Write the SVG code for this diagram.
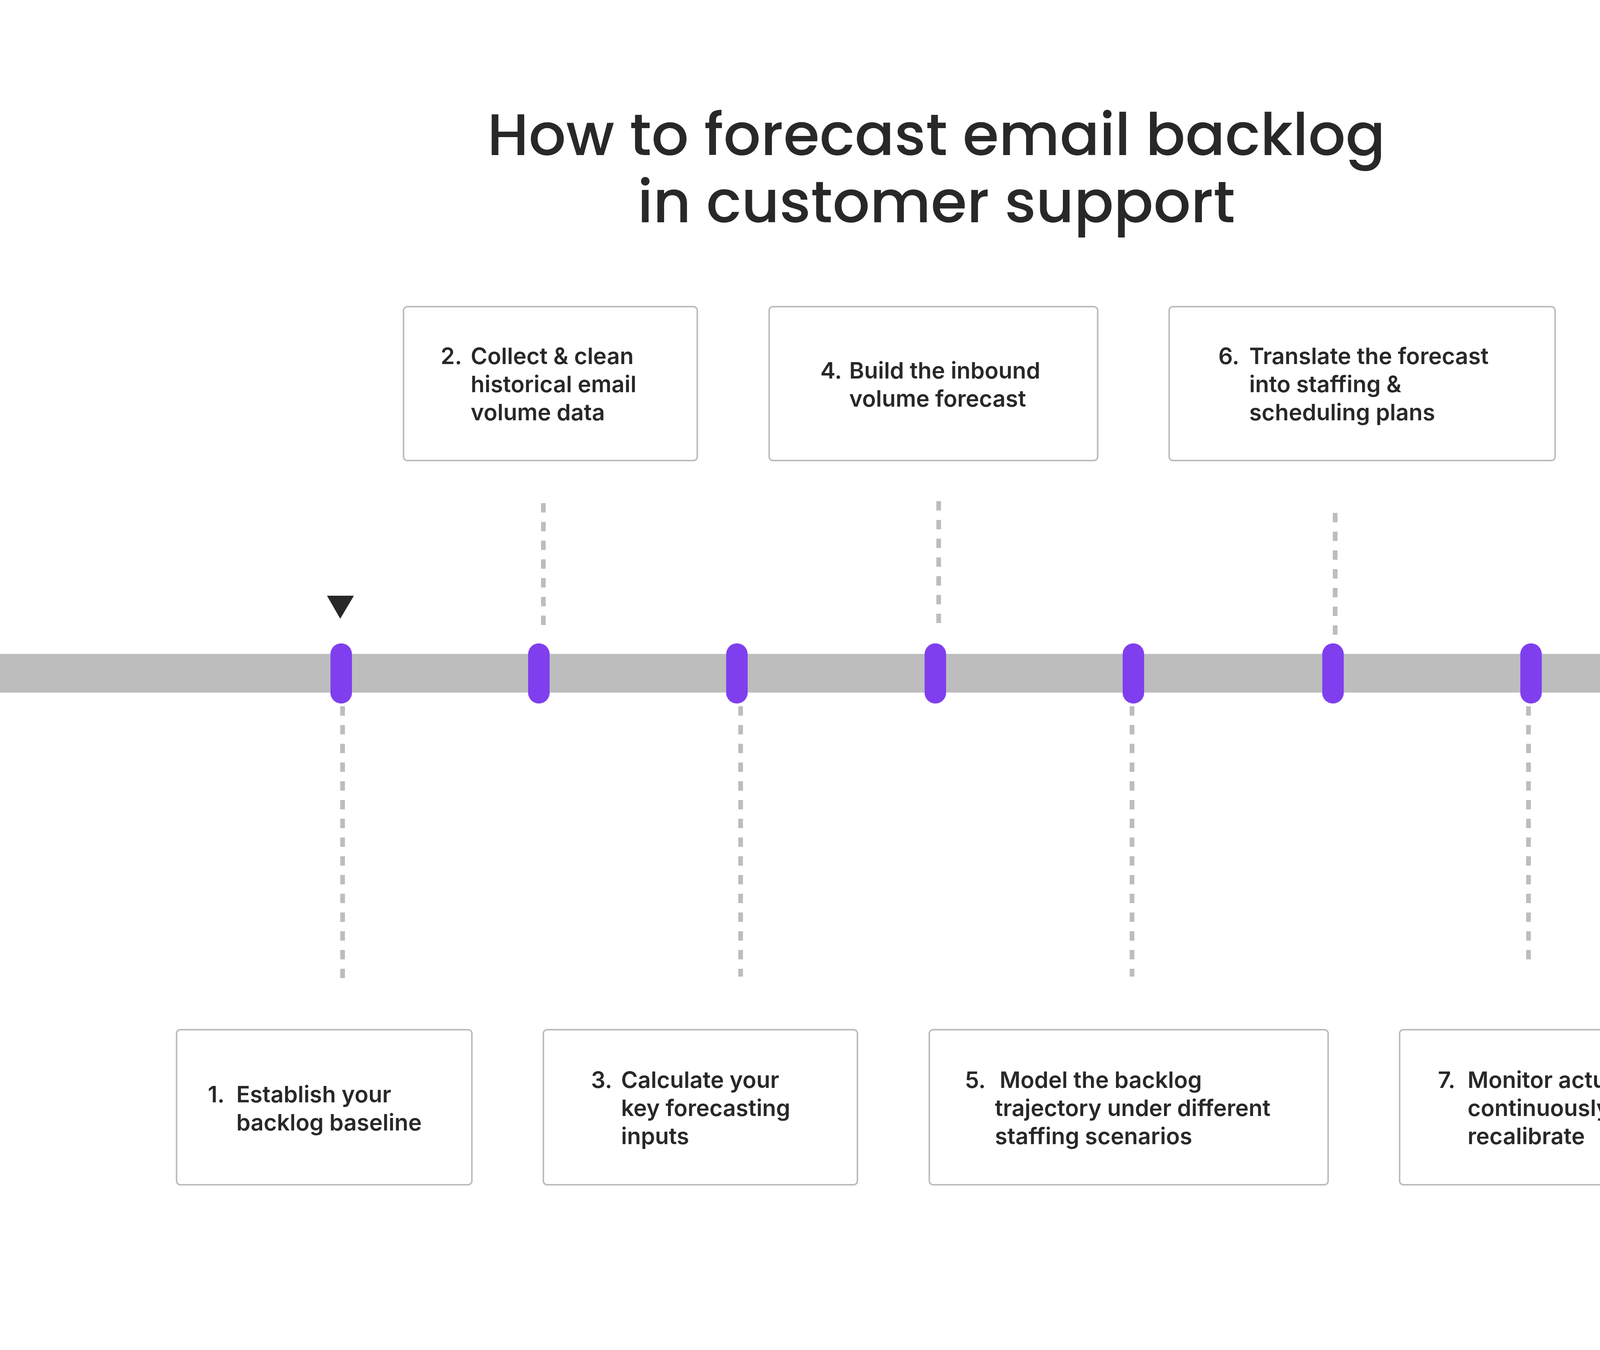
<svg xmlns="http://www.w3.org/2000/svg" width="4794" height="3456" viewBox="0 0 4794 3456">
<style>
.t{font-family:Inter,"Liberation Sans",sans-serif;font-weight:600;font-size:58px;fill:#282828}
.h{font-family:Poppins,Lato,Inter,"Liberation Sans",sans-serif;font-weight:500;font-size:150px;fill:#282828;text-anchor:middle}
.b{fill:#fff;stroke:#BDBDBD;stroke-width:4}
.d{stroke:#BDBDBD;stroke-width:12;stroke-dasharray:24 24;fill:none}
.k{fill:#7F3FEE}
</style>
<rect width="4794" height="3456" fill="#fff"/>
<g id="title"><text class="h" x="2397" y="397">How to forecast email backlog</text><text class="h" x="2397" y="569">in customer support</text></g>
<g id="timeline">
<rect x="0" y="1674" width="4794" height="99" fill="#BDBDBD"/>
<polygon points="837,1525 906,1525 871,1584" fill="#282828"/>
</g>
<g id="connectors">
<line class="d" x1="877" y1="1808" x2="877" y2="2505"/>
<line class="d" x1="1391" y1="1288" x2="1391" y2="1620"/>
<line class="d" x1="1896" y1="1808" x2="1896" y2="2500"/>
<line class="d" x1="2403" y1="1283" x2="2403" y2="1613"/>
<line class="d" x1="2898" y1="1808" x2="2898" y2="2500"/>
<line class="d" x1="3418" y1="1313" x2="3418" y2="1650"/>
<line class="d" x1="3913" y1="1808" x2="3913" y2="2470"/>
</g>
<g id="ticks">
<rect class="k" x="846" y="1647" width="55" height="154" rx="27.5"/>
<rect class="k" x="1352" y="1647" width="55" height="154" rx="27.5"/>
<rect class="k" x="1859" y="1647" width="55" height="154" rx="27.5"/>
<rect class="k" x="2367" y="1647" width="55" height="154" rx="27.5"/>
<rect class="k" x="2874" y="1647" width="55" height="154" rx="27.5"/>
<rect class="k" x="3385" y="1647" width="55" height="154" rx="27.5"/>
<rect class="k" x="3892" y="1647" width="55" height="154" rx="27.5"/>
</g>
<g id="step1"><rect class="b" x="452" y="2636" width="756" height="397" rx="10"/>
<text class="t" x="532" y="2822">1.</text><text class="t" x="605" y="2822">Establish your</text><text class="t" x="605" y="2894">backlog baseline</text></g>
<g id="step2"><rect class="b" x="1033" y="785" width="752" height="394" rx="10"/>
<text class="t" x="1128" y="932">2.</text><text class="t" x="1205" y="932">Collect &amp; clean</text><text class="t" x="1205" y="1004">historical email</text><text class="t" x="1205" y="1076">volume data</text></g>
<g id="step3"><rect class="b" x="1391" y="2636" width="804" height="397" rx="10"/>
<text class="t" x="1513" y="2785">3.</text><text class="t" x="1590" y="2785">Calculate your</text><text class="t" x="1590" y="2857">key forecasting</text><text class="t" x="1590" y="2929">inputs</text></g>
<g id="step4"><rect class="b" x="1969" y="785" width="841" height="394" rx="10"/>
<text class="t" x="2100" y="969">4.</text><text class="t" x="2174" y="969">Build the inbound</text><text class="t" x="2174" y="1041">volume forecast</text></g>
<g id="step5"><rect class="b" x="2379" y="2636" width="1021" height="397" rx="10"/>
<text class="t" x="2470" y="2785">5.</text><text class="t" x="2559" y="2785">Model the backlog</text><text class="t" x="2547" y="2857">trajectory under different</text><text class="t" x="2547" y="2929">staffing scenarios</text></g>
<g id="step6"><rect class="b" x="2993" y="785" width="988" height="394" rx="10"/>
<text class="t" x="3119" y="932">6.</text><text class="t" x="3198" y="932">Translate the forecast</text><text class="t" x="3198" y="1004">into staffing &amp;</text><text class="t" x="3198" y="1076">scheduling plans</text></g>
<g id="step7"><rect class="b" x="3583" y="2636" width="810" height="397" rx="10"/>
<text class="t" x="3681" y="2785">7.</text><text class="t" x="3757" y="2785">Monitor actuals &amp;</text><text class="t" x="3757" y="2857">continuously</text><text class="t" x="3757" y="2929">recalibrate</text></g>
</svg>
